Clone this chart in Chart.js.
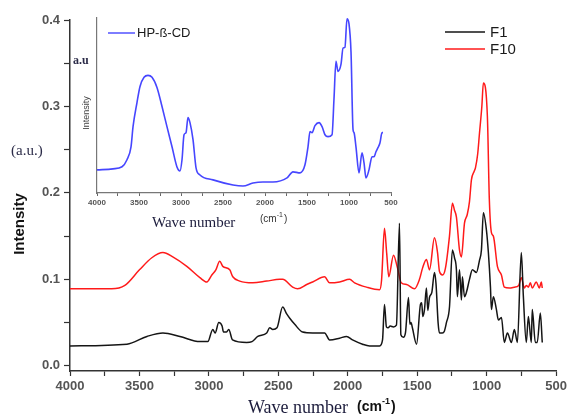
<!DOCTYPE html>
<html>
<head>
<meta charset="utf-8">
<script src="https://cdn.jsdelivr.net/npm/chart.js@4/dist/chart.umd.min.js"></script>
<style>
  html, body { margin: 0; padding: 0; background: #fff; }
  #wrap { position: relative; width: 570px; height: 416px; }
  #wrap canvas { position: absolute; left: 0; top: 0; }
</style>
</head>
<body>
<div id="wrap">
  <canvas id="mainChart" width="570" height="416"></canvas>
  <canvas id="insetChart" width="570" height="416"></canvas>
</div>
<script>
// FTIR spectra, wave number (cm-1) against intensity
var f1Wave = [4000, 3590, 3446, 3331, 3209, 3065, 3008, 2972, 2955, 2929, 2905, 2895, 2875, 2857, 2830,
  2728, 2690, 2648, 2584, 2562, 2540, 2510, 2469, 2440, 2418, 2382, 2325, 2253, 2167, 2131, 2059, 2009,
  1966, 1894, 1843, 1771, 1750, 1736, 1722, 1710, 1695, 1671, 1650, 1628, 1618, 1600, 1585, 1563, 1553,
  1545, 1535, 1505, 1477, 1468, 1460, 1448, 1434, 1424, 1412, 1395, 1376, 1365, 1350, 1340, 1320, 1305,
  1290, 1268, 1247, 1232, 1218, 1211, 1196, 1182, 1175, 1160, 1146, 1124, 1103, 1074, 1052, 1038, 1024,
  1002, 988, 973, 966, 952, 930, 916, 894, 873, 851, 822, 801, 779, 751, 736, 715, 700, 679, 672, 650,
  636, 614, 600];
var f1Int = [0.023, 0.025, 0.034, 0.038, 0.034, 0.028, 0.028, 0.042, 0.038, 0.050, 0.046, 0.039, 0.039, 0.042, 0.030,
  0.027, 0.028, 0.034, 0.038, 0.044, 0.042, 0.044, 0.068, 0.060, 0.055, 0.048, 0.039, 0.038, 0.038, 0.030, 0.032, 0.034,
  0.030, 0.025, 0.023, 0.023, 0.030, 0.071, 0.045, 0.044, 0.046, 0.045, 0.047, 0.165, 0.036, 0.033, 0.038, 0.079, 0.048,
  0.050, 0.044, 0.025, 0.071, 0.073, 0.057, 0.065, 0.090, 0.064, 0.079, 0.085, 0.108, 0.095, 0.050, 0.038, 0.038, 0.040,
  0.050, 0.068, 0.134, 0.125, 0.111, 0.080, 0.111, 0.076, 0.103, 0.080, 0.085, 0.100, 0.111, 0.108, 0.122, 0.134, 0.177,
  0.157, 0.131, 0.091, 0.065, 0.080, 0.065, 0.053, 0.056, 0.027, 0.038, 0.027, 0.042, 0.027, 0.131, 0.080, 0.027, 0.057, 0.027, 0.065, 0.027,
  0.027, 0.061, 0.027];

var f10Wave = [4000, 3700, 3605, 3500, 3411, 3331, 3260, 3159, 3065, 3015, 2979, 2950, 2922, 2900, 2850, 2828,
  2778, 2684, 2584, 2490, 2469, 2397, 2361, 2296, 2253, 2167, 2131, 2059, 1987, 1951, 1865, 1771, 1757, 1736,
  1720, 1705, 1671, 1642, 1615, 1577, 1520, 1484, 1462, 1434, 1412, 1376, 1354, 1340, 1318, 1297, 1268, 1247,
  1232, 1218, 1196, 1182, 1160, 1140, 1124, 1110, 1090, 1081, 1065, 1052, 1035, 1024, 995, 981, 966, 952, 923,
  894, 873, 837, 801, 770, 751, 729, 715, 700, 686, 672, 643, 621, 607, 600];
var f10Int = [0.089, 0.089, 0.093, 0.111, 0.125, 0.131, 0.126, 0.115, 0.102, 0.097, 0.105, 0.111, 0.121, 0.115, 0.111, 0.103,
  0.098, 0.096, 0.098, 0.100, 0.100, 0.091, 0.089, 0.094, 0.097, 0.103, 0.096, 0.097, 0.100, 0.096, 0.091, 0.088, 0.099, 0.159,
  0.130, 0.103, 0.128, 0.113, 0.096, 0.094, 0.089, 0.100, 0.113, 0.123, 0.111, 0.148, 0.131, 0.109, 0.105, 0.113, 0.150, 0.188,
  0.180, 0.172, 0.134, 0.126, 0.165, 0.175, 0.190, 0.215, 0.225, 0.229, 0.245, 0.269, 0.300, 0.327, 0.288, 0.192, 0.154, 0.150, 0.115,
  0.105, 0.091, 0.090, 0.091, 0.093, 0.102, 0.090, 0.093, 0.091, 0.096, 0.090, 0.097, 0.090, 0.097, 0.090];

// HP-β-CD reference spectrum (inset, relative intensity)
var cdWave = [4000, 3810, 3702, 3643, 3595, 3571, 3524, 3488, 3440, 3393, 3345, 3286, 3226, 3167, 3107, 3048,
  3012, 2988, 2964, 2940, 2917, 2893, 2857, 2821, 2774, 2619, 2381, 2262, 2143, 2024, 1905, 1738, 1667, 1583,
  1524, 1488, 1464, 1440, 1405, 1357, 1321, 1286, 1250, 1202, 1179, 1155, 1131, 1095, 1071, 1048, 1024, 1000,
  976, 952, 940, 917, 881, 845, 821, 798, 762, 726, 702, 679, 655, 631, 607, 595];
var cdInt = [0.132, 0.138, 0.150, 0.190, 0.264, 0.379, 0.517, 0.609, 0.661, 0.672, 0.661, 0.603, 0.494, 0.379, 0.264, 0.149,
  0.126, 0.190, 0.333, 0.345, 0.431, 0.402, 0.305, 0.144, 0.103, 0.075, 0.046, 0.040, 0.057, 0.063, 0.063, 0.086, 0.121, 0.115,
  0.161, 0.264, 0.351, 0.345, 0.385, 0.402, 0.379, 0.333, 0.322, 0.333, 0.534, 0.753, 0.695, 0.736, 0.828, 0.833, 0.995, 0.966,
  0.805, 0.362, 0.345, 0.264, 0.115, 0.230, 0.172, 0.086, 0.132, 0.207, 0.207, 0.236, 0.259, 0.287, 0.345, 0.345];

var waveTicks = [4000, 3750, 3500, 3250, 3000, 2750, 2500, 2250, 2000, 1750, 1500, 1250, 1000, 750, 500];
var intTicks = [0.0, 0.05, 0.1, 0.15, 0.2, 0.25, 0.3, 0.35, 0.4];

function pts(xs, ys) {
  return xs.map(function (x, i) { return { x: x, y: ys[i] }; });
}

function cmLabel(ctx, x, y, size, weight) {
  // "(cm-1)" with a raised exponent
  ctx.font = weight + ' ' + size + 'px "Liberation Sans", Arial, sans-serif';
  ctx.textBaseline = 'middle';
  ctx.textAlign = 'left';
  ctx.fillText('(cm', x, y);
  var w = ctx.measureText('(cm').width;
  ctx.font = weight + ' ' + Math.round(size * 0.65) + 'px "Liberation Sans", Arial, sans-serif';
  ctx.fillText('-1', x + w, y - size * 0.4);
  var w2 = ctx.measureText('-1').width;
  ctx.font = weight + ' ' + size + 'px "Liberation Sans", Arial, sans-serif';
  ctx.fillText(')', x + w + w2 + 1, y);
}

var mainText = {
  id: 'mainText',
  afterDraw: function (chart) {
    var ctx = chart.ctx;
    ctx.save();
    ctx.fillStyle = '#2b2b48';
    ctx.font = '15px "Liberation Serif", "Times New Roman", serif';
    ctx.textBaseline = 'middle';
    ctx.fillText('(a.u.)', 11, 151);

    ctx.fillStyle = '#111';
    ctx.font = 'bold 15px "Liberation Sans", Arial, sans-serif';
    ctx.translate(20, 224);
    ctx.rotate(-Math.PI / 2);
    ctx.textAlign = 'center';
    ctx.fillText('Intensity', 0, 0);
    ctx.restore();

    ctx.save();
    ctx.fillStyle = '#1c1c3c';
    ctx.font = '18px "Liberation Serif", "Times New Roman", serif';
    ctx.textBaseline = 'middle';
    ctx.fillText('Wave number', 248, 408);
    ctx.fillStyle = '#111';
    cmLabel(ctx, 357, 407, 14, 'bold');

    // legend
    chart.data.datasets.forEach(function (ds, i) {
      var y = 32 + i * 17;
      ctx.strokeStyle = ds.borderColor;
      ctx.lineWidth = 1.6;
      ctx.beginPath();
      ctx.moveTo(445, y);
      ctx.lineTo(485, y);
      ctx.stroke();
      ctx.fillStyle = '#1a1a1a';
      ctx.font = '15px "Liberation Sans", Arial, sans-serif';
      ctx.textBaseline = 'middle';
      ctx.textAlign = 'left';
      ctx.fillText(ds.label, 490, y + 1);
    });
    ctx.restore();
  }
};

var insetText = {
  id: 'insetText',
  afterDraw: function (chart) {
    var ctx = chart.ctx;
    var ds = chart.data.datasets[0];
    ctx.save();
    ctx.strokeStyle = ds.borderColor;
    ctx.lineWidth = 1.4;
    ctx.beginPath();
    ctx.moveTo(108, 33);
    ctx.lineTo(135, 33);
    ctx.stroke();
    ctx.fillStyle = '#1a1a1a';
    ctx.font = '13px "Liberation Sans", Arial, sans-serif';
    ctx.textBaseline = 'middle';
    ctx.fillText(ds.label, 137, 33);

    ctx.fillStyle = '#2b2b48';
    ctx.font = 'bold 12px "Liberation Serif", "Times New Roman", serif';
    ctx.fillText('a.u', 73, 61);

    ctx.fillStyle = '#1c1c3c';
    ctx.font = '15px "Liberation Serif", "Times New Roman", serif';
    ctx.fillText('Wave number', 152, 223);
    ctx.fillStyle = '#333';
    cmLabel(ctx, 260, 219, 10, 'normal');

    ctx.fillStyle = '#444';
    ctx.font = '9px "Liberation Sans", Arial, sans-serif';
    ctx.translate(87, 113);
    ctx.rotate(-Math.PI / 2);
    ctx.textAlign = 'center';
    ctx.fillText('Intensity', 0, 0);
    ctx.restore();
  }
};

function waveLabel(v) {
  return v % 500 === 0 ? v : '';
}

new Chart(document.getElementById('mainChart'), {
  type: 'line',
  data: {
    datasets: [
      { label: 'F1', data: pts(f1Wave, f1Int), borderColor: '#151515', borderWidth: 1.5 },
      { label: 'F10', data: pts(f10Wave, f10Int), borderColor: '#ff1a1a', borderWidth: 1.5 }
    ]
  },
  options: {
    responsive: false,
    animation: false,
    layout: { padding: { left: 0, right: 13, top: 20, bottom: 0 } },
    plugins: { legend: { display: false }, tooltip: { enabled: false } },
    elements: { point: { radius: 0 }, line: { cubicInterpolationMode: 'monotone' } },
    scales: {
      x: {
        type: 'linear', reverse: true, min: 500, max: 4000,
        afterFit: function (s) { s.height = 45; },
        afterBuildTicks: function (s) { s.ticks = waveTicks.map(function (v) { return { value: v }; }); },
        ticks: { callback: waveLabel, autoSkip: false, maxRotation: 0, padding: 3, color: '#555',
          font: { family: '"Liberation Sans", Arial, sans-serif', size: 13, weight: 'bold' } },
        grid: { drawOnChartArea: false, tickLength: 5, tickColor: '#333', tickWidth: 1.2 },
        border: { color: '#333', width: 1.5 }
      },
      y: {
        type: 'linear', min: -0.006, max: 0.4,
        afterFit: function (s) { s.width = 70; },
        afterBuildTicks: function (s) { s.ticks = intTicks.map(function (v) { return { value: v }; }); },
        ticks: {
          callback: function (v) { return Math.abs(v * 10 - Math.round(v * 10)) < 1e-6 ? v.toFixed(1) : ''; },
          autoSkip: false, padding: 4, color: '#555',
          font: { family: '"Liberation Sans", Arial, sans-serif', size: 13, weight: 'bold' }
        },
        grid: { drawOnChartArea: false, tickLength: 6, tickColor: '#333', tickWidth: 1.2 },
        border: { color: '#333', width: 1.5 }
      }
    }
  },
  plugins: [mainText]
});

new Chart(document.getElementById('insetChart'), {
  type: 'line',
  data: {
    datasets: [
      { label: 'HP-ß-CD', data: pts(cdWave, cdInt), borderColor: '#4646ff', borderWidth: 1.6 }
    ]
  },
  options: {
    responsive: false,
    animation: false,
    layout: { padding: { left: 87, right: 179, top: 18, bottom: 0 } },
    plugins: { legend: { display: false }, tooltip: { enabled: false } },
    elements: { point: { radius: 0 }, line: { cubicInterpolationMode: 'monotone' } },
    scales: {
      x: {
        type: 'linear', reverse: true, min: 500, max: 4000,
        afterFit: function (s) { s.height = 223; },
        afterBuildTicks: function (s) { s.ticks = waveTicks.map(function (v) { return { value: v }; }); },
        ticks: { callback: waveLabel, autoSkip: false, maxRotation: 0, padding: 2, color: '#555',
          font: { family: '"Liberation Sans", Arial, sans-serif', size: 8, weight: 'bold' } },
        grid: { drawOnChartArea: false, tickLength: 3, tickColor: '#666', tickWidth: 1 },
        border: { color: '#777', width: 1.2 }
      },
      y: {
        type: 'linear', min: 0, max: 1,
        afterFit: function (s) { s.width = 10; },
        ticks: { display: false },
        grid: { display: false, drawOnChartArea: false },
        border: { display: true, color: '#777', width: 1.2 }
      }
    }
  },
  plugins: [insetText]
});
</script>
</body>
</html>
